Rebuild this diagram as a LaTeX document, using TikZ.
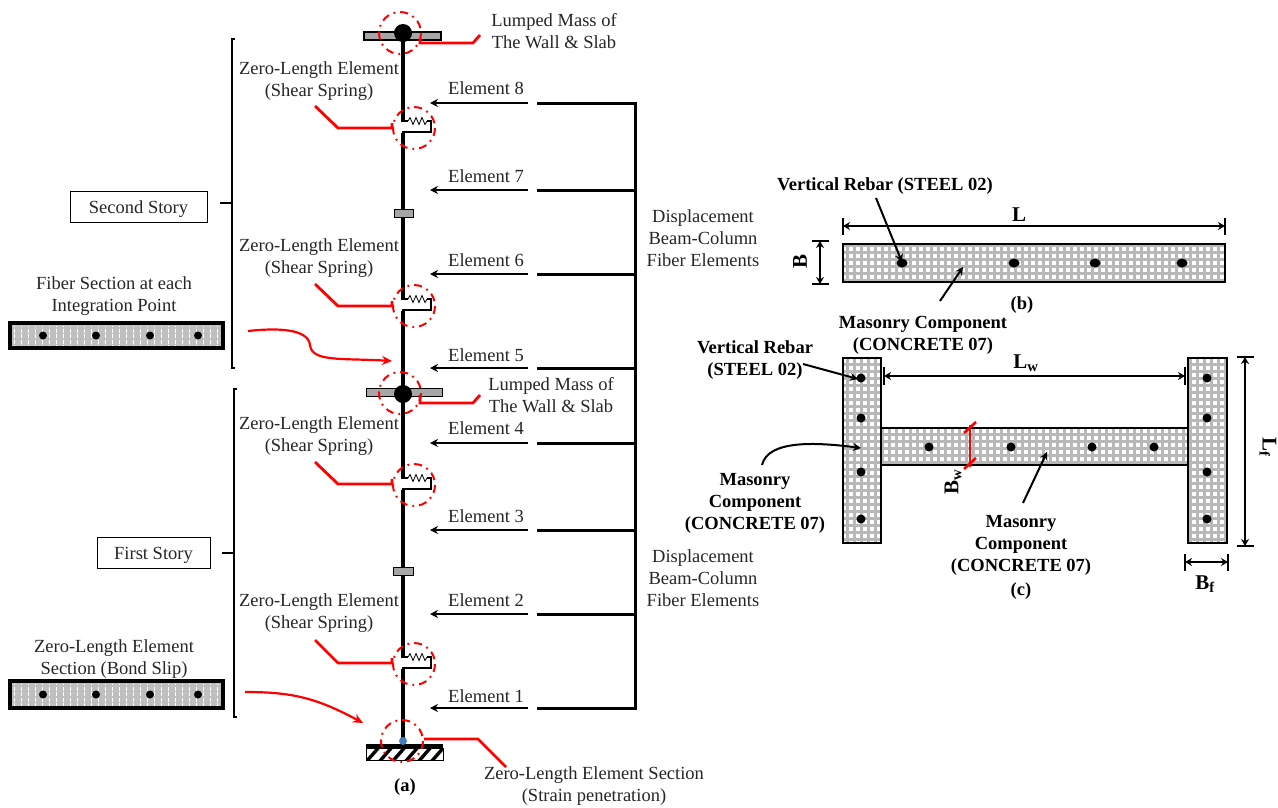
\documentclass[tikz,border=0pt]{standalone}
\usepackage{fontspec}
\setmainfont{Liberation Serif}
\usetikzlibrary{arrows.meta,positioning}
\definecolor{leaderred}{RGB}{255,0,0}
\definecolor{platefill}{RGB}{166,166,166}
\definecolor{gridgray}{RGB}{184,184,184}
\definecolor{fiberfill}{RGB}{191,191,191}
\definecolor{pinblue}{RGB}{70,130,190}

\begin{document}
\begin{tikzpicture}[
  x=1pt, y=-1pt,
  font=\fontsize{18.5}{22}\selectfont,
  label/.style={align=center, inner sep=0pt, text=black!85},
  boldlabel/.style={align=center, inner sep=0pt, font=\fontsize{18.5}{22}\selectfont\bfseries},
  symbol/.style={inner sep=0pt, font=\fontsize{21}{22}\selectfont\bfseries},
  storybox/.style={draw, line width=0.7pt, inner sep=0pt, text=black!85, text height=13pt, text depth=0pt},
  column/.style={line width=4pt},
  busline/.style={line width=3pt},
  elemarrow/.style={{Stealth[length=8pt,width=8pt]}-, line width=2pt},
  leader/.style={color=leaderred, line width=2.8pt},
  redarrow/.style={-{Stealth[length=10pt,width=9pt]}, color=leaderred, line width=2.2pt},
  hinge/.style={color=leaderred, line width=2pt, dash pattern=on 8pt off 5pt on 1.8pt off 5pt},
  dimarrow/.style={{Stealth[length=7pt,width=8pt]}-{Stealth[length=7pt,width=8pt]}, line width=2pt},
  dimtick/.style={line width=2.2pt},
  callout/.style={-{Stealth[length=8pt,width=8pt]}, line width=2pt},
  bracketline/.style={line width=1.6pt},
  masonry/.style={draw, line width=1.6pt},
  springcell/.pic={
    \draw[line width=2pt] (-1,0) -- (5,0);
    \draw[line width=0.8pt] (5,0) -- (7,-3.5) -- (10,3.5) -- (13,-3.5) -- (16,3.5) -- (19,-3.5) -- (22,3.5) -- (24,0);
    \draw[line width=2pt] (24,0) -- (28,0) -- (28,11) -- (-1,11);
    \draw[hinge] (11,7) circle (21);
  }
]
\newcommand{\masonrysection}[4]{%
  \fill[white] (#1,#2) rectangle (#3,#4);
  \begin{scope}
    \clip (#1,#2) rectangle (#3,#4);
    \draw[gridgray, line width=3pt, step=7pt] (#1,#4) grid (#3,#2);
  \end{scope}
  \draw[masonry] (#1,#2) rectangle (#3,#4);
}
\newcommand{\fibersection}[4]{%
  \fill[fiberfill] (#1,#2) rectangle (#3,#4);
  \begin{scope}
    \clip (#1+3,#2+3) rectangle (#3-3,#4-3);
    \foreach \gx in {14,21,...,220}
      \draw[white, line width=0.7pt, dash pattern=on 4pt off 1.5pt] (\gx,#2) -- (\gx,#4);
  \end{scope}
  \draw[line width=4.4pt] (#1,#2) rectangle (#3,#4);
  \foreach \px in {43,96,150,198}
    \fill (\px,#2/2+#4/2) circle (4);
}
\useasboundingbox (0,0) rectangle (1278,807);
\fill[white] (0,0) rectangle (1278,807);

% column
\coordinate (top) at (403,33);
\coordinate (sp8) at (403,121);
\coordinate (sp6) at (403,299);
\coordinate (sp4) at (403,478);
\coordinate (sp2) at (403,657);
\coordinate (base) at (403,741);
\draw[column] (top) -- ([yshift=-1pt]sp8);
\draw[column] ([yshift=-12pt]sp8) -- ([yshift=-1pt]sp6);
\draw[column] ([yshift=-12pt]sp6) -- ([yshift=-1pt]sp4);
\draw[column] ([yshift=-12pt]sp4) -- ([yshift=-1pt]sp2);
\draw[column] ([yshift=-12pt]sp2) -- (base);
\pic at (sp8) {springcell};
\pic at (sp6) {springcell};
\pic at (sp4) {springcell};
\pic at (sp2) {springcell};

% plates and masses
\draw[fill=platefill, line width=1.2pt] (364,32) rectangle (441,40);
\fill (top) circle (9);
\draw[hinge] (400,33) circle (21);
\draw[fill=platefill, line width=1pt] (366,388) rectangle (442,396);
\fill (403,394) circle (9);
\draw[hinge] (400,393) circle (21);
\draw[fill=platefill, line width=0.8pt] (394,209) rectangle (413,217);
\draw[fill=platefill, line width=0.8pt] (393,567) rectangle (413,575);

% fixed base
\begin{scope}
  \clip (366,748) rectangle (443,760);
  \foreach \hx in {366,379,...,458}
    \draw[line width=3.4pt] (\hx,762) -- (\hx+14,746);
\end{scope}
\draw[line width=0.9pt] (366,748) rectangle (443,760);
\fill (366,744) rectangle (443,748);
\fill[pinblue] (base) circle (4);
\draw[hinge] (402,741) circle (21);

% elements
\draw[busline] (635,101.5) -- (635,709.5);
\foreach \nn/\yy/\ly in {8/103/88,7/190/176,6/274/260,5/368/355,4/443/428,3/530/516,2/614/600,1/708/696}{
  \coordinate (tip\nn) at (430,\yy);
  \coordinate (tail\nn) at (528,\yy);
  \coordinate (stub\nn) at (537,\yy);
  \coordinate (bus\nn) at (635,\yy);
  \node[label] (elem\nn) at (486,\ly) {Element \nn};
  \draw[elemarrow] (tip\nn) -- (tail\nn);
  \draw[busline] (stub\nn) -- (bus\nn);
}
\node[label] (disptop) at (703,238) {Displacement\\Beam-Column\\Fiber Elements};
\node[label] (dispbot) at (703,578) {Displacement\\Beam-Column\\Fiber Elements};

% labels of the column
\node[label] (masstop) at (554,31) {Lumped Mass of\\The Wall \& Slab};
\node[label] (massmid) at (551,395) {Lumped Mass of\\The Wall \& Slab};
\node[label] (zero8) at (319,81) {Zero-Length Element\\(Shear Spring)};
\node[label] (zero6) at (319,258) {Zero-Length Element\\(Shear Spring)};
\node[label] (zero4) at (319,436) {Zero-Length Element\\(Shear Spring)};
\node[label] (zero2) at (319,613) {Zero-Length Element\\(Shear Spring)};
\node[label] (zerobase) at (594,786) {Zero-Length Element Section\\(Strain penetration)};
\node[boldlabel] (capa) at (405,787) {(a)};

\draw[leader] (420,38) -- (420,43) -- (473,43) -- (480,35);
\draw[leader] (420,395) -- (420,403) -- (473,403) -- (480,395);
\draw[leader] (315,106) -- (338,128) -- (392,128) -- (392,123);
\draw[leader] (315,284) -- (338,306) -- (392,306) -- (392,301);
\draw[leader] (315,462) -- (338,484) -- (392,484) -- (392,479);
\draw[leader] (315,640) -- (338,663) -- (392,663) -- (392,658);
\draw[leader] (424,739) -- (478,739) -- (506,767);

% stories
\node[storybox, minimum width=137pt, minimum height=31pt] (second) at (138.5,206.5) {Second Story};
\node[storybox, minimum width=113pt, minimum height=31pt] (first) at (153.5,552.5) {First Story};
\draw[bracketline] (235,39) -- (232,39) -- (232,368) -- (235,368);
\draw[bracketline] (220,203) -- (232,203);
\draw[bracketline] (237,389) -- (234,389) -- (234,717) -- (237,717);
\draw[bracketline] (222,553) -- (234,553);

% sections of the column
\node[label] (fibertext) at (114,296) {Fiber Section at each\\Integration Point};
\fibersection{10}{323}{223}{348}
\node[label] (bondtext) at (114,659) {Zero-Length Element\\Section (Bond Slip)};
\fibersection{10}{681}{223}{708}
\draw[redarrow] (248,331) .. controls (275,328) and (308,328) .. (310,345) .. controls (312,362) and (340,358) .. (392,361);
\draw[redarrow] (245,692) .. controls (290,692) and (315,697) .. (363,723);

% section b
\masonrysection{843}{244}{1225}{282}
\foreach \px in {902,1014,1095,1182}
  \fill (\px,263) ellipse (5.5 and 4.5);
\coordinate (lleft) at (843,226);
\coordinate (lright) at (1225,226);
\draw[dimtick] (843,218) -- (843,235);
\draw[dimtick] (1225,218) -- (1225,235);
\draw[dimarrow] (lleft) -- (lright);
\coordinate (btop) at (820,241);
\coordinate (bbot) at (820,284);
\draw[dimtick] (812,241) -- (829,241);
\draw[dimtick] (812,284) -- (829,284);
\draw[dimarrow] (btop) -- (bbot);
\node[symbol] (ltext) at (1019,215) {L};
\node[symbol, rotate=90] (btext) at (800,261) {B};
\node[boldlabel] (rebarb) at (885,186) {Vertical Rebar (STEEL 02)};
\node[boldlabel] (masonryb) at (923,335) {Masonry Component\\(CONCRETE 07)};
\node[boldlabel] (capb) at (1022,305) {(b)};
\coordinate (rebarbtip) at (902,262);
\coordinate (masonrybtip) at (963,267);
\draw[callout] (876,198) -- (rebarbtip);
\draw[callout] (940,301) -- (masonrybtip);

% section c
\masonrysection{881}{428}{1188}{465}
\masonrysection{843}{358}{881}{543}
\masonrysection{1188}{358}{1227}{543}
\foreach \py in {378,418,472,519}{
  \fill (861,\py) circle (4.5);
  \fill (1207,\py) circle (4.5);
}
\foreach \px in {929,1011,1092,1154}
  \fill (\px,447) circle (4.5);
\coordinate (lwleft) at (884,376);
\coordinate (lwright) at (1185,376);
\draw[dimtick] (884,367) -- (884,385);
\draw[dimtick] (1185,367) -- (1185,385);
\draw[dimarrow] (lwleft) -- (lwright);
\coordinate (lftop) at (1245,357);
\coordinate (lfbot) at (1245,546);
\draw[dimtick] (1237,357) -- (1254,357);
\draw[dimtick] (1237,546) -- (1254,546);
\draw[dimarrow] (lftop) -- (lfbot);
\coordinate (bfleft) at (1185,562);
\coordinate (bfright) at (1228,562);
\draw[dimtick] (1185,554) -- (1185,571);
\draw[dimtick] (1228,554) -- (1228,571);
\draw[dimarrow] (bfleft) -- (bfright);
\coordinate (bwtop) at (970,425);
\coordinate (bwbot) at (970,467);
\draw[leader, line width=2.6pt] (bwtop) -- (bwbot);
\draw[leader, line width=2.6pt] (964,433) -- (976,422);
\draw[leader, line width=2.6pt] (964,469) -- (976,458);
\node[symbol] (lwtext) at (1026,363) {L\textsubscript{w}};
\node[symbol, rotate=-90] (lftext) at (1268,447) {L\textsubscript{f}};
\node[symbol] (bftext) at (1205,584) {B\textsubscript{f}};
\node[symbol, rotate=90] (bwtext) at (953,482) {B\textsubscript{w}};
\node[boldlabel] (rebarc) at (755,360) {Vertical Rebar\\(STEEL 02)};
\node[boldlabel] (masonryc) at (755,503) {Masonry\\Component\\(CONCRETE 07)};
\node[boldlabel] (masonryd) at (1021,545) {Masonry\\Component\\(CONCRETE 07)};
\node[boldlabel] (capc) at (1021,591) {(c)};
\coordinate (rebarctip) at (858,379);
\coordinate (masonryctip) at (861,448);
\coordinate (masonrydtip) at (1047,452);
\draw[callout] (803,364) -- (rebarctip);
\draw[callout] (762,465) .. controls (768,440) and (815,442) .. (masonryctip);
\draw[callout] (1023,503) -- (masonrydtip);
\end{tikzpicture}
\end{document}
